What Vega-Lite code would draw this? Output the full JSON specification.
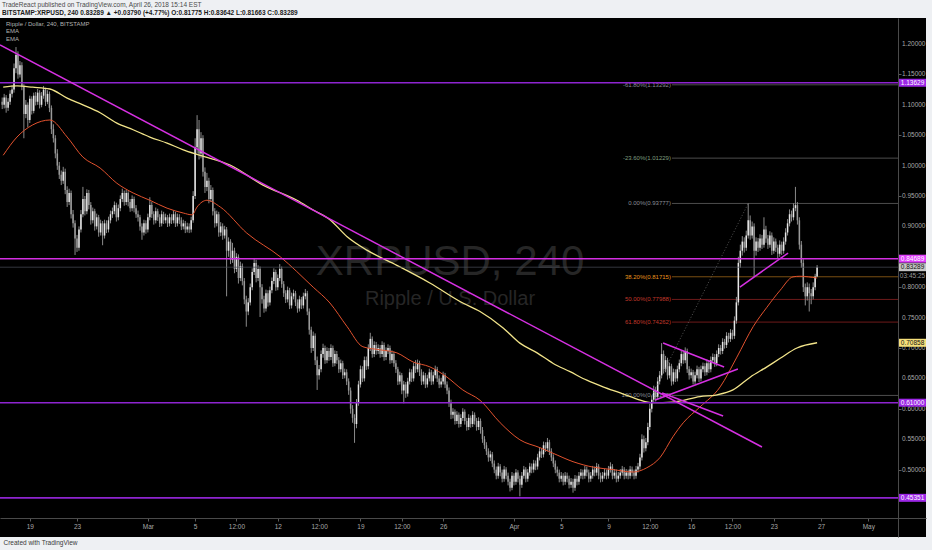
{
"$schema":"https://vega.github.io/schema/vega-lite/v6.json",
"width":926,"height":519,
"autosize":{"type":"none"},
"padding":{"left":0,"top":18,"right":6,"bottom":13},
"background":"#eef0f3",
"title":{"text":"TradeReact published on TradingView.com, April 26, 2018 15:14 EST","subtitle":"BITSTAMP:XRPUSD, 240  0.83289 ▲ +0.03790 (+4.77%)  O:0.81775  H:0.83642  L:0.81663  C:0.83289","anchor":"start","frame":"group","offset":2,"dx":2,"font":"Liberation Sans","fontSize":6.5,"fontWeight":"normal","color":"#4a4a4a","subtitleFont":"Liberation Sans","subtitleFontSize":6.5,"subtitleFontWeight":"bold","subtitleColor":"#1a1a1a","subtitlePadding":1.5},
"datasets":{
"c":[
{"t":376,"o":1.105,"hi":1.112,"lo":1.093,"c":1.100},
{"t":380,"o":1.100,"hi":1.118,"lo":1.094,"c":1.112},
{"t":384,"o":1.112,"hi":1.116,"lo":1.087,"c":1.095},
{"t":388,"o":1.095,"hi":1.111,"lo":1.090,"c":1.105},
{"t":392,"o":1.105,"hi":1.124,"lo":1.100,"c":1.118},
{"t":396,"o":1.118,"hi":1.132,"lo":1.112,"c":1.125},
{"t":400,"o":1.125,"hi":1.168,"lo":1.120,"c":1.160},
{"t":404,"o":1.160,"hi":1.195,"lo":1.152,"c":1.182},
{"t":408,"o":1.182,"hi":1.188,"lo":1.143,"c":1.150},
{"t":412,"o":1.150,"hi":1.172,"lo":1.145,"c":1.165},
{"t":416,"o":1.165,"hi":1.170,"lo":1.124,"c":1.130},
{"t":420,"o":1.130,"hi":1.134,"lo":1.045,"c":1.085},
{"t":424,"o":1.085,"hi":1.108,"lo":1.078,"c":1.100},
{"t":428,"o":1.100,"hi":1.104,"lo":1.063,"c":1.075},
{"t":432,"o":1.075,"hi":1.115,"lo":1.070,"c":1.110},
{"t":436,"o":1.110,"hi":1.114,"lo":1.084,"c":1.090},
{"t":440,"o":1.090,"hi":1.120,"lo":1.086,"c":1.115},
{"t":444,"o":1.115,"hi":1.121,"lo":1.099,"c":1.105},
{"t":448,"o":1.105,"hi":1.126,"lo":1.100,"c":1.120},
{"t":452,"o":1.120,"hi":1.124,"lo":1.094,"c":1.100},
{"t":456,"o":1.100,"hi":1.121,"lo":1.096,"c":1.115},
{"t":460,"o":1.115,"hi":1.131,"lo":1.110,"c":1.125},
{"t":464,"o":1.125,"hi":1.128,"lo":1.098,"c":1.105},
{"t":468,"o":1.105,"hi":1.124,"lo":1.101,"c":1.118},
{"t":472,"o":1.118,"hi":1.122,"lo":1.088,"c":1.095},
{"t":476,"o":1.095,"hi":1.099,"lo":1.052,"c":1.060},
{"t":480,"o":1.060,"hi":1.068,"lo":1.038,"c":1.045},
{"t":484,"o":1.045,"hi":1.050,"lo":1.012,"c":1.020},
{"t":488,"o":1.020,"hi":1.027,"lo":0.993,"c":1.000},
{"t":492,"o":1.000,"hi":1.006,"lo":0.978,"c":0.985},
{"t":496,"o":0.985,"hi":0.992,"lo":0.968,"c":0.975},
{"t":500,"o":0.975,"hi":0.998,"lo":0.970,"c":0.990},
{"t":504,"o":0.990,"hi":0.995,"lo":0.953,"c":0.960},
{"t":508,"o":0.960,"hi":0.966,"lo":0.932,"c":0.940},
{"t":512,"o":0.940,"hi":0.962,"lo":0.935,"c":0.955},
{"t":516,"o":0.955,"hi":0.959,"lo":0.913,"c":0.920},
{"t":520,"o":0.920,"hi":0.927,"lo":0.898,"c":0.905},
{"t":524,"o":0.905,"hi":0.910,"lo":0.853,"c":0.880},
{"t":528,"o":0.880,"hi":0.886,"lo":0.858,"c":0.865},
{"t":532,"o":0.865,"hi":0.900,"lo":0.860,"c":0.895},
{"t":536,"o":0.895,"hi":0.927,"lo":0.890,"c":0.920},
{"t":540,"o":0.920,"hi":0.965,"lo":0.915,"c":0.945},
{"t":544,"o":0.945,"hi":0.950,"lo":0.918,"c":0.925},
{"t":548,"o":0.925,"hi":0.961,"lo":0.920,"c":0.955},
{"t":552,"o":0.955,"hi":0.960,"lo":0.928,"c":0.935},
{"t":556,"o":0.935,"hi":0.940,"lo":0.903,"c":0.910},
{"t":560,"o":0.910,"hi":0.931,"lo":0.905,"c":0.925},
{"t":564,"o":0.925,"hi":0.929,"lo":0.893,"c":0.900},
{"t":568,"o":0.900,"hi":0.921,"lo":0.895,"c":0.915},
{"t":572,"o":0.915,"hi":0.919,"lo":0.883,"c":0.890},
{"t":576,"o":0.890,"hi":0.911,"lo":0.885,"c":0.905},
{"t":580,"o":0.905,"hi":0.909,"lo":0.869,"c":0.885},
{"t":584,"o":0.885,"hi":0.911,"lo":0.880,"c":0.905},
{"t":588,"o":0.905,"hi":0.910,"lo":0.889,"c":0.895},
{"t":592,"o":0.895,"hi":0.916,"lo":0.890,"c":0.910},
{"t":596,"o":0.910,"hi":0.926,"lo":0.905,"c":0.920},
{"t":600,"o":0.920,"hi":0.931,"lo":0.914,"c":0.925},
{"t":604,"o":0.925,"hi":0.941,"lo":0.920,"c":0.935},
{"t":608,"o":0.935,"hi":0.939,"lo":0.908,"c":0.915},
{"t":612,"o":0.915,"hi":0.936,"lo":0.910,"c":0.930},
{"t":616,"o":0.930,"hi":0.951,"lo":0.925,"c":0.945},
{"t":620,"o":0.945,"hi":0.962,"lo":0.940,"c":0.955},
{"t":624,"o":0.955,"hi":0.959,"lo":0.934,"c":0.940},
{"t":628,"o":0.940,"hi":0.960,"lo":0.935,"c":0.955},
{"t":632,"o":0.955,"hi":0.958,"lo":0.933,"c":0.940},
{"t":636,"o":0.940,"hi":0.945,"lo":0.924,"c":0.930},
{"t":640,"o":0.930,"hi":0.951,"lo":0.925,"c":0.945},
{"t":644,"o":0.945,"hi":0.949,"lo":0.923,"c":0.930},
{"t":648,"o":0.930,"hi":0.935,"lo":0.914,"c":0.920},
{"t":652,"o":0.920,"hi":0.926,"lo":0.908,"c":0.915},
{"t":656,"o":0.915,"hi":0.919,"lo":0.893,"c":0.900},
{"t":660,"o":0.900,"hi":0.905,"lo":0.878,"c":0.890},
{"t":664,"o":0.890,"hi":0.911,"lo":0.885,"c":0.905},
{"t":668,"o":0.905,"hi":0.910,"lo":0.888,"c":0.895},
{"t":672,"o":0.895,"hi":0.921,"lo":0.890,"c":0.915},
{"t":676,"o":0.915,"hi":0.948,"lo":0.910,"c":0.935},
{"t":680,"o":0.935,"hi":0.940,"lo":0.914,"c":0.920},
{"t":684,"o":0.920,"hi":0.925,"lo":0.903,"c":0.910},
{"t":688,"o":0.910,"hi":0.931,"lo":0.905,"c":0.925},
{"t":692,"o":0.925,"hi":0.929,"lo":0.909,"c":0.915},
{"t":696,"o":0.915,"hi":0.920,"lo":0.899,"c":0.905},
{"t":700,"o":0.905,"hi":0.926,"lo":0.900,"c":0.920},
{"t":704,"o":0.920,"hi":0.924,"lo":0.904,"c":0.910},
{"t":708,"o":0.910,"hi":0.921,"lo":0.905,"c":0.915},
{"t":712,"o":0.915,"hi":0.919,"lo":0.899,"c":0.905},
{"t":716,"o":0.905,"hi":0.921,"lo":0.900,"c":0.915},
{"t":720,"o":0.915,"hi":0.920,"lo":0.904,"c":0.910},
{"t":724,"o":0.910,"hi":0.926,"lo":0.905,"c":0.920},
{"t":728,"o":0.920,"hi":0.924,"lo":0.899,"c":0.905},
{"t":732,"o":0.905,"hi":0.921,"lo":0.900,"c":0.915},
{"t":736,"o":0.915,"hi":0.920,"lo":0.904,"c":0.910},
{"t":740,"o":0.910,"hi":0.915,"lo":0.894,"c":0.900},
{"t":744,"o":0.900,"hi":0.911,"lo":0.895,"c":0.905},
{"t":748,"o":0.905,"hi":0.909,"lo":0.889,"c":0.895},
{"t":752,"o":0.895,"hi":0.906,"lo":0.890,"c":0.900},
{"t":756,"o":0.900,"hi":0.905,"lo":0.889,"c":0.895},
{"t":760,"o":0.895,"hi":0.916,"lo":0.890,"c":0.910},
{"t":764,"o":0.910,"hi":0.958,"lo":0.906,"c":0.950},
{"t":768,"o":0.950,"hi":1.045,"lo":0.945,"c":1.030},
{"t":772,"o":1.030,"hi":1.083,"lo":1.020,"c":1.060},
{"t":776,"o":1.060,"hi":1.075,"lo":1.010,"c":1.020},
{"t":780,"o":1.020,"hi":1.055,"lo":1.012,"c":1.045},
{"t":784,"o":1.045,"hi":1.050,"lo":0.982,"c":0.990},
{"t":788,"o":0.990,"hi":0.997,"lo":0.955,"c":0.965},
{"t":792,"o":0.965,"hi":0.988,"lo":0.958,"c":0.975},
{"t":796,"o":0.975,"hi":0.980,"lo":0.938,"c":0.945},
{"t":800,"o":0.945,"hi":0.968,"lo":0.940,"c":0.960},
{"t":804,"o":0.960,"hi":0.964,"lo":0.918,"c":0.925},
{"t":808,"o":0.925,"hi":0.930,"lo":0.898,"c":0.905},
{"t":812,"o":0.905,"hi":0.926,"lo":0.900,"c":0.920},
{"t":816,"o":0.920,"hi":0.924,"lo":0.883,"c":0.890},
{"t":820,"o":0.890,"hi":0.907,"lo":0.884,"c":0.900},
{"t":824,"o":0.900,"hi":0.905,"lo":0.878,"c":0.885},
{"t":828,"o":0.885,"hi":0.901,"lo":0.880,"c":0.895},
{"t":832,"o":0.895,"hi":0.899,"lo":0.785,"c":0.860},
{"t":836,"o":0.860,"hi":0.882,"lo":0.850,"c":0.875},
{"t":840,"o":0.875,"hi":0.879,"lo":0.838,"c":0.845},
{"t":844,"o":0.845,"hi":0.873,"lo":0.840,"c":0.860},
{"t":848,"o":0.860,"hi":0.865,"lo":0.823,"c":0.830},
{"t":852,"o":0.830,"hi":0.856,"lo":0.825,"c":0.850},
{"t":856,"o":0.850,"hi":0.854,"lo":0.806,"c":0.815},
{"t":860,"o":0.815,"hi":0.842,"lo":0.810,"c":0.835},
{"t":864,"o":0.835,"hi":0.839,"lo":0.803,"c":0.810},
{"t":868,"o":0.810,"hi":0.815,"lo":0.772,"c":0.780},
{"t":872,"o":0.780,"hi":0.786,"lo":0.735,"c":0.760},
{"t":876,"o":0.760,"hi":0.782,"lo":0.754,"c":0.775},
{"t":880,"o":0.775,"hi":0.806,"lo":0.770,"c":0.800},
{"t":884,"o":0.800,"hi":0.831,"lo":0.795,"c":0.825},
{"t":888,"o":0.825,"hi":0.848,"lo":0.820,"c":0.840},
{"t":892,"o":0.840,"hi":0.845,"lo":0.808,"c":0.815},
{"t":896,"o":0.815,"hi":0.836,"lo":0.810,"c":0.830},
{"t":900,"o":0.830,"hi":0.834,"lo":0.751,"c":0.800},
{"t":904,"o":0.800,"hi":0.805,"lo":0.773,"c":0.780},
{"t":908,"o":0.780,"hi":0.786,"lo":0.758,"c":0.765},
{"t":912,"o":0.765,"hi":0.796,"lo":0.760,"c":0.790},
{"t":916,"o":0.790,"hi":0.795,"lo":0.768,"c":0.775},
{"t":920,"o":0.775,"hi":0.801,"lo":0.770,"c":0.795},
{"t":924,"o":0.795,"hi":0.816,"lo":0.790,"c":0.810},
{"t":928,"o":0.810,"hi":0.831,"lo":0.805,"c":0.825},
{"t":932,"o":0.825,"hi":0.829,"lo":0.794,"c":0.800},
{"t":936,"o":0.800,"hi":0.821,"lo":0.795,"c":0.815},
{"t":940,"o":0.815,"hi":0.838,"lo":0.810,"c":0.830},
{"t":944,"o":0.830,"hi":0.834,"lo":0.799,"c":0.805},
{"t":948,"o":0.805,"hi":0.810,"lo":0.784,"c":0.790},
{"t":952,"o":0.790,"hi":0.795,"lo":0.774,"c":0.780},
{"t":956,"o":0.780,"hi":0.801,"lo":0.775,"c":0.795},
{"t":960,"o":0.795,"hi":0.799,"lo":0.764,"c":0.770},
{"t":964,"o":0.770,"hi":0.791,"lo":0.765,"c":0.785},
{"t":968,"o":0.785,"hi":0.796,"lo":0.780,"c":0.790},
{"t":972,"o":0.790,"hi":0.794,"lo":0.769,"c":0.775},
{"t":976,"o":0.775,"hi":0.780,"lo":0.758,"c":0.765},
{"t":980,"o":0.765,"hi":0.786,"lo":0.760,"c":0.780},
{"t":984,"o":0.780,"hi":0.784,"lo":0.764,"c":0.770},
{"t":988,"o":0.770,"hi":0.791,"lo":0.765,"c":0.785},
{"t":992,"o":0.785,"hi":0.797,"lo":0.780,"c":0.790},
{"t":996,"o":0.790,"hi":0.794,"lo":0.754,"c":0.760},
{"t":1000,"o":0.760,"hi":0.765,"lo":0.722,"c":0.730},
{"t":1004,"o":0.730,"hi":0.735,"lo":0.692,"c":0.700},
{"t":1008,"o":0.700,"hi":0.727,"lo":0.695,"c":0.720},
{"t":1012,"o":0.720,"hi":0.724,"lo":0.672,"c":0.680},
{"t":1016,"o":0.680,"hi":0.686,"lo":0.631,"c":0.655},
{"t":1020,"o":0.655,"hi":0.672,"lo":0.648,"c":0.665},
{"t":1024,"o":0.665,"hi":0.696,"lo":0.660,"c":0.690},
{"t":1028,"o":0.690,"hi":0.707,"lo":0.684,"c":0.700},
{"t":1032,"o":0.700,"hi":0.704,"lo":0.674,"c":0.680},
{"t":1036,"o":0.680,"hi":0.701,"lo":0.675,"c":0.695},
{"t":1040,"o":0.695,"hi":0.700,"lo":0.679,"c":0.685},
{"t":1044,"o":0.685,"hi":0.706,"lo":0.680,"c":0.700},
{"t":1048,"o":0.700,"hi":0.704,"lo":0.669,"c":0.675},
{"t":1052,"o":0.675,"hi":0.696,"lo":0.670,"c":0.690},
{"t":1056,"o":0.690,"hi":0.695,"lo":0.674,"c":0.680},
{"t":1060,"o":0.680,"hi":0.685,"lo":0.659,"c":0.665},
{"t":1064,"o":0.665,"hi":0.681,"lo":0.660,"c":0.675},
{"t":1068,"o":0.675,"hi":0.679,"lo":0.649,"c":0.655},
{"t":1072,"o":0.655,"hi":0.666,"lo":0.650,"c":0.660},
{"t":1076,"o":0.660,"hi":0.665,"lo":0.639,"c":0.645},
{"t":1080,"o":0.645,"hi":0.650,"lo":0.623,"c":0.630},
{"t":1084,"o":0.630,"hi":0.635,"lo":0.592,"c":0.600},
{"t":1088,"o":0.600,"hi":0.606,"lo":0.577,"c":0.585},
{"t":1092,"o":0.585,"hi":0.591,"lo":0.544,"c":0.575},
{"t":1096,"o":0.575,"hi":0.616,"lo":0.568,"c":0.610},
{"t":1100,"o":0.610,"hi":0.646,"lo":0.605,"c":0.640},
{"t":1104,"o":0.640,"hi":0.671,"lo":0.635,"c":0.665},
{"t":1108,"o":0.665,"hi":0.670,"lo":0.644,"c":0.650},
{"t":1112,"o":0.650,"hi":0.686,"lo":0.645,"c":0.680},
{"t":1116,"o":0.680,"hi":0.686,"lo":0.664,"c":0.670},
{"t":1120,"o":0.670,"hi":0.706,"lo":0.665,"c":0.700},
{"t":1124,"o":0.700,"hi":0.725,"lo":0.695,"c":0.715},
{"t":1128,"o":0.715,"hi":0.719,"lo":0.684,"c":0.690},
{"t":1132,"o":0.690,"hi":0.711,"lo":0.685,"c":0.705},
{"t":1136,"o":0.705,"hi":0.710,"lo":0.689,"c":0.695},
{"t":1140,"o":0.695,"hi":0.706,"lo":0.690,"c":0.700},
{"t":1144,"o":0.700,"hi":0.705,"lo":0.684,"c":0.690},
{"t":1148,"o":0.690,"hi":0.711,"lo":0.685,"c":0.705},
{"t":1152,"o":0.705,"hi":0.709,"lo":0.679,"c":0.685},
{"t":1156,"o":0.685,"hi":0.701,"lo":0.680,"c":0.695},
{"t":1160,"o":0.695,"hi":0.706,"lo":0.690,"c":0.700},
{"t":1164,"o":0.700,"hi":0.704,"lo":0.674,"c":0.680},
{"t":1168,"o":0.680,"hi":0.696,"lo":0.675,"c":0.690},
{"t":1172,"o":0.690,"hi":0.694,"lo":0.669,"c":0.675},
{"t":1176,"o":0.675,"hi":0.680,"lo":0.659,"c":0.665},
{"t":1180,"o":0.665,"hi":0.669,"lo":0.639,"c":0.645},
{"t":1184,"o":0.645,"hi":0.661,"lo":0.640,"c":0.655},
{"t":1188,"o":0.655,"hi":0.659,"lo":0.624,"c":0.630},
{"t":1192,"o":0.630,"hi":0.646,"lo":0.609,"c":0.640},
{"t":1196,"o":0.640,"hi":0.644,"lo":0.618,"c":0.625},
{"t":1200,"o":0.625,"hi":0.651,"lo":0.620,"c":0.645},
{"t":1204,"o":0.645,"hi":0.666,"lo":0.640,"c":0.660},
{"t":1208,"o":0.660,"hi":0.665,"lo":0.644,"c":0.650},
{"t":1212,"o":0.650,"hi":0.676,"lo":0.645,"c":0.670},
{"t":1216,"o":0.670,"hi":0.680,"lo":0.659,"c":0.665},
{"t":1220,"o":0.665,"hi":0.681,"lo":0.660,"c":0.675},
{"t":1224,"o":0.675,"hi":0.679,"lo":0.654,"c":0.660},
{"t":1228,"o":0.660,"hi":0.665,"lo":0.639,"c":0.645},
{"t":1232,"o":0.645,"hi":0.661,"lo":0.640,"c":0.655},
{"t":1236,"o":0.655,"hi":0.659,"lo":0.634,"c":0.640},
{"t":1240,"o":0.640,"hi":0.656,"lo":0.635,"c":0.650},
{"t":1244,"o":0.650,"hi":0.666,"lo":0.645,"c":0.660},
{"t":1248,"o":0.660,"hi":0.664,"lo":0.639,"c":0.645},
{"t":1252,"o":0.645,"hi":0.661,"lo":0.640,"c":0.655},
{"t":1256,"o":0.655,"hi":0.671,"lo":0.650,"c":0.665},
{"t":1260,"o":0.665,"hi":0.669,"lo":0.644,"c":0.650},
{"t":1264,"o":0.650,"hi":0.655,"lo":0.634,"c":0.640},
{"t":1268,"o":0.640,"hi":0.651,"lo":0.635,"c":0.645},
{"t":1272,"o":0.645,"hi":0.661,"lo":0.640,"c":0.655},
{"t":1276,"o":0.655,"hi":0.659,"lo":0.634,"c":0.640},
{"t":1280,"o":0.640,"hi":0.645,"lo":0.624,"c":0.630},
{"t":1284,"o":0.630,"hi":0.635,"lo":0.603,"c":0.610},
{"t":1288,"o":0.610,"hi":0.615,"lo":0.583,"c":0.590},
{"t":1292,"o":0.590,"hi":0.601,"lo":0.584,"c":0.595},
{"t":1296,"o":0.595,"hi":0.599,"lo":0.574,"c":0.580},
{"t":1300,"o":0.580,"hi":0.596,"lo":0.575,"c":0.590},
{"t":1304,"o":0.590,"hi":0.594,"lo":0.569,"c":0.575},
{"t":1308,"o":0.575,"hi":0.591,"lo":0.570,"c":0.585},
{"t":1312,"o":0.585,"hi":0.601,"lo":0.580,"c":0.595},
{"t":1316,"o":0.595,"hi":0.599,"lo":0.574,"c":0.580},
{"t":1320,"o":0.580,"hi":0.585,"lo":0.564,"c":0.570},
{"t":1324,"o":0.570,"hi":0.591,"lo":0.565,"c":0.585},
{"t":1328,"o":0.585,"hi":0.589,"lo":0.569,"c":0.575},
{"t":1332,"o":0.575,"hi":0.596,"lo":0.570,"c":0.590},
{"t":1336,"o":0.590,"hi":0.594,"lo":0.574,"c":0.580},
{"t":1340,"o":0.580,"hi":0.585,"lo":0.564,"c":0.570},
{"t":1344,"o":0.570,"hi":0.586,"lo":0.565,"c":0.580},
{"t":1348,"o":0.580,"hi":0.584,"lo":0.559,"c":0.565},
{"t":1352,"o":0.565,"hi":0.570,"lo":0.544,"c":0.550},
{"t":1356,"o":0.550,"hi":0.555,"lo":0.534,"c":0.540},
{"t":1360,"o":0.540,"hi":0.545,"lo":0.524,"c":0.530},
{"t":1364,"o":0.530,"hi":0.535,"lo":0.513,"c":0.520},
{"t":1368,"o":0.520,"hi":0.531,"lo":0.514,"c":0.525},
{"t":1372,"o":0.525,"hi":0.529,"lo":0.504,"c":0.510},
{"t":1376,"o":0.510,"hi":0.515,"lo":0.494,"c":0.500},
{"t":1380,"o":0.500,"hi":0.505,"lo":0.484,"c":0.490},
{"t":1384,"o":0.490,"hi":0.511,"lo":0.485,"c":0.505},
{"t":1388,"o":0.505,"hi":0.509,"lo":0.489,"c":0.495},
{"t":1392,"o":0.495,"hi":0.500,"lo":0.479,"c":0.485},
{"t":1396,"o":0.485,"hi":0.506,"lo":0.480,"c":0.500},
{"t":1400,"o":0.500,"hi":0.504,"lo":0.484,"c":0.490},
{"t":1404,"o":0.490,"hi":0.495,"lo":0.474,"c":0.480},
{"t":1408,"o":0.480,"hi":0.485,"lo":0.464,"c":0.470},
{"t":1412,"o":0.470,"hi":0.496,"lo":0.466,"c":0.490},
{"t":1416,"o":0.490,"hi":0.494,"lo":0.474,"c":0.480},
{"t":1420,"o":0.480,"hi":0.501,"lo":0.475,"c":0.495},
{"t":1424,"o":0.495,"hi":0.499,"lo":0.479,"c":0.485},
{"t":1428,"o":0.485,"hi":0.490,"lo":0.456,"c":0.475},
{"t":1432,"o":0.475,"hi":0.496,"lo":0.470,"c":0.490},
{"t":1436,"o":0.490,"hi":0.506,"lo":0.485,"c":0.500},
{"t":1440,"o":0.500,"hi":0.504,"lo":0.479,"c":0.485},
{"t":1444,"o":0.485,"hi":0.501,"lo":0.480,"c":0.495},
{"t":1448,"o":0.495,"hi":0.511,"lo":0.490,"c":0.505},
{"t":1452,"o":0.505,"hi":0.510,"lo":0.494,"c":0.500},
{"t":1456,"o":0.500,"hi":0.516,"lo":0.495,"c":0.510},
{"t":1460,"o":0.510,"hi":0.515,"lo":0.499,"c":0.505},
{"t":1464,"o":0.505,"hi":0.526,"lo":0.500,"c":0.520},
{"t":1468,"o":0.520,"hi":0.536,"lo":0.515,"c":0.530},
{"t":1472,"o":0.530,"hi":0.535,"lo":0.519,"c":0.525},
{"t":1476,"o":0.525,"hi":0.546,"lo":0.520,"c":0.540},
{"t":1480,"o":0.540,"hi":0.545,"lo":0.529,"c":0.535},
{"t":1484,"o":0.535,"hi":0.552,"lo":0.530,"c":0.545},
{"t":1488,"o":0.545,"hi":0.549,"lo":0.524,"c":0.530},
{"t":1492,"o":0.530,"hi":0.535,"lo":0.514,"c":0.520},
{"t":1496,"o":0.520,"hi":0.525,"lo":0.504,"c":0.510},
{"t":1500,"o":0.510,"hi":0.515,"lo":0.494,"c":0.500},
{"t":1504,"o":0.500,"hi":0.505,"lo":0.489,"c":0.495},
{"t":1508,"o":0.495,"hi":0.500,"lo":0.479,"c":0.485},
{"t":1512,"o":0.485,"hi":0.496,"lo":0.480,"c":0.490},
{"t":1516,"o":0.490,"hi":0.494,"lo":0.474,"c":0.480},
{"t":1520,"o":0.480,"hi":0.496,"lo":0.475,"c":0.490},
{"t":1524,"o":0.490,"hi":0.495,"lo":0.479,"c":0.485},
{"t":1528,"o":0.485,"hi":0.490,"lo":0.469,"c":0.475},
{"t":1532,"o":0.475,"hi":0.486,"lo":0.470,"c":0.480},
{"t":1536,"o":0.480,"hi":0.485,"lo":0.462,"c":0.470},
{"t":1540,"o":0.470,"hi":0.491,"lo":0.465,"c":0.485},
{"t":1544,"o":0.485,"hi":0.490,"lo":0.474,"c":0.480},
{"t":1548,"o":0.480,"hi":0.496,"lo":0.475,"c":0.490},
{"t":1552,"o":0.490,"hi":0.501,"lo":0.485,"c":0.495},
{"t":1556,"o":0.495,"hi":0.500,"lo":0.484,"c":0.490},
{"t":1560,"o":0.490,"hi":0.506,"lo":0.485,"c":0.500},
{"t":1564,"o":0.500,"hi":0.505,"lo":0.489,"c":0.495},
{"t":1568,"o":0.495,"hi":0.500,"lo":0.479,"c":0.485},
{"t":1572,"o":0.485,"hi":0.496,"lo":0.480,"c":0.490},
{"t":1576,"o":0.490,"hi":0.506,"lo":0.485,"c":0.500},
{"t":1580,"o":0.500,"hi":0.505,"lo":0.489,"c":0.495},
{"t":1584,"o":0.495,"hi":0.511,"lo":0.490,"c":0.505},
{"t":1588,"o":0.505,"hi":0.509,"lo":0.484,"c":0.490},
{"t":1592,"o":0.490,"hi":0.495,"lo":0.479,"c":0.485},
{"t":1596,"o":0.485,"hi":0.496,"lo":0.480,"c":0.490},
{"t":1600,"o":0.490,"hi":0.501,"lo":0.485,"c":0.495},
{"t":1604,"o":0.495,"hi":0.500,"lo":0.484,"c":0.490},
{"t":1608,"o":0.490,"hi":0.506,"lo":0.485,"c":0.500},
{"t":1612,"o":0.500,"hi":0.512,"lo":0.495,"c":0.505},
{"t":1616,"o":0.505,"hi":0.509,"lo":0.484,"c":0.490},
{"t":1620,"o":0.490,"hi":0.501,"lo":0.485,"c":0.495},
{"t":1624,"o":0.495,"hi":0.500,"lo":0.479,"c":0.485},
{"t":1628,"o":0.485,"hi":0.496,"lo":0.480,"c":0.490},
{"t":1632,"o":0.490,"hi":0.501,"lo":0.485,"c":0.495},
{"t":1636,"o":0.495,"hi":0.506,"lo":0.490,"c":0.500},
{"t":1640,"o":0.500,"hi":0.504,"lo":0.484,"c":0.490},
{"t":1644,"o":0.490,"hi":0.501,"lo":0.485,"c":0.495},
{"t":1648,"o":0.495,"hi":0.500,"lo":0.484,"c":0.490},
{"t":1652,"o":0.490,"hi":0.506,"lo":0.485,"c":0.500},
{"t":1656,"o":0.500,"hi":0.505,"lo":0.489,"c":0.495},
{"t":1660,"o":0.495,"hi":0.500,"lo":0.484,"c":0.490},
{"t":1664,"o":0.490,"hi":0.506,"lo":0.485,"c":0.500},
{"t":1668,"o":0.500,"hi":0.511,"lo":0.495,"c":0.505},
{"t":1672,"o":0.505,"hi":0.526,"lo":0.500,"c":0.520},
{"t":1676,"o":0.520,"hi":0.558,"lo":0.515,"c":0.550},
{"t":1680,"o":0.550,"hi":0.556,"lo":0.528,"c":0.535},
{"t":1684,"o":0.535,"hi":0.552,"lo":0.530,"c":0.545},
{"t":1688,"o":0.545,"hi":0.577,"lo":0.540,"c":0.570},
{"t":1692,"o":0.570,"hi":0.608,"lo":0.565,"c":0.600},
{"t":1696,"o":0.600,"hi":0.622,"lo":0.594,"c":0.615},
{"t":1700,"o":0.615,"hi":0.638,"lo":0.610,"c":0.630},
{"t":1704,"o":0.630,"hi":0.636,"lo":0.612,"c":0.620},
{"t":1708,"o":0.620,"hi":0.652,"lo":0.615,"c":0.645},
{"t":1712,"o":0.645,"hi":0.662,"lo":0.640,"c":0.655},
{"t":1716,"o":0.655,"hi":0.708,"lo":0.650,"c":0.690},
{"t":1720,"o":0.690,"hi":0.696,"lo":0.658,"c":0.665},
{"t":1724,"o":0.665,"hi":0.687,"lo":0.660,"c":0.680},
{"t":1728,"o":0.680,"hi":0.684,"lo":0.648,"c":0.655},
{"t":1732,"o":0.655,"hi":0.676,"lo":0.650,"c":0.670},
{"t":1736,"o":0.670,"hi":0.674,"lo":0.638,"c":0.645},
{"t":1740,"o":0.645,"hi":0.666,"lo":0.640,"c":0.660},
{"t":1744,"o":0.660,"hi":0.665,"lo":0.644,"c":0.650},
{"t":1748,"o":0.650,"hi":0.671,"lo":0.645,"c":0.665},
{"t":1752,"o":0.665,"hi":0.681,"lo":0.660,"c":0.675},
{"t":1756,"o":0.675,"hi":0.696,"lo":0.670,"c":0.690},
{"t":1760,"o":0.690,"hi":0.695,"lo":0.674,"c":0.680},
{"t":1764,"o":0.680,"hi":0.701,"lo":0.675,"c":0.695},
{"t":1768,"o":0.695,"hi":0.699,"lo":0.659,"c":0.665},
{"t":1772,"o":0.665,"hi":0.670,"lo":0.648,"c":0.655},
{"t":1776,"o":0.655,"hi":0.666,"lo":0.650,"c":0.660},
{"t":1780,"o":0.660,"hi":0.664,"lo":0.640,"c":0.645},
{"t":1784,"o":0.645,"hi":0.661,"lo":0.640,"c":0.655},
{"t":1788,"o":0.655,"hi":0.671,"lo":0.650,"c":0.665},
{"t":1792,"o":0.665,"hi":0.669,"lo":0.644,"c":0.650},
{"t":1796,"o":0.650,"hi":0.671,"lo":0.645,"c":0.665},
{"t":1800,"o":0.665,"hi":0.676,"lo":0.660,"c":0.670},
{"t":1804,"o":0.670,"hi":0.675,"lo":0.654,"c":0.660},
{"t":1808,"o":0.660,"hi":0.681,"lo":0.655,"c":0.675},
{"t":1812,"o":0.675,"hi":0.680,"lo":0.659,"c":0.665},
{"t":1816,"o":0.665,"hi":0.686,"lo":0.660,"c":0.680},
{"t":1820,"o":0.680,"hi":0.691,"lo":0.675,"c":0.685},
{"t":1824,"o":0.685,"hi":0.690,"lo":0.669,"c":0.675},
{"t":1828,"o":0.675,"hi":0.696,"lo":0.670,"c":0.690},
{"t":1832,"o":0.690,"hi":0.706,"lo":0.685,"c":0.700},
{"t":1836,"o":0.700,"hi":0.705,"lo":0.689,"c":0.695},
{"t":1840,"o":0.695,"hi":0.716,"lo":0.690,"c":0.710},
{"t":1844,"o":0.710,"hi":0.715,"lo":0.699,"c":0.705},
{"t":1848,"o":0.705,"hi":0.726,"lo":0.700,"c":0.720},
{"t":1852,"o":0.720,"hi":0.725,"lo":0.709,"c":0.715},
{"t":1856,"o":0.715,"hi":0.731,"lo":0.710,"c":0.725},
{"t":1860,"o":0.725,"hi":0.730,"lo":0.714,"c":0.720},
{"t":1864,"o":0.720,"hi":0.752,"lo":0.715,"c":0.745},
{"t":1868,"o":0.745,"hi":0.784,"lo":0.740,"c":0.775},
{"t":1872,"o":0.775,"hi":0.850,"lo":0.770,"c":0.840},
{"t":1876,"o":0.840,"hi":0.870,"lo":0.832,"c":0.860},
{"t":1880,"o":0.860,"hi":0.884,"lo":0.852,"c":0.875},
{"t":1884,"o":0.875,"hi":0.882,"lo":0.857,"c":0.865},
{"t":1888,"o":0.865,"hi":0.893,"lo":0.860,"c":0.885},
{"t":1892,"o":0.885,"hi":0.938,"lo":0.880,"c":0.910},
{"t":1896,"o":0.910,"hi":0.918,"lo":0.878,"c":0.885},
{"t":1900,"o":0.885,"hi":0.908,"lo":0.880,"c":0.900},
{"t":1904,"o":0.900,"hi":0.905,"lo":0.817,"c":0.860},
{"t":1908,"o":0.860,"hi":0.882,"lo":0.852,"c":0.875},
{"t":1912,"o":0.875,"hi":0.881,"lo":0.858,"c":0.865},
{"t":1916,"o":0.865,"hi":0.887,"lo":0.860,"c":0.880},
{"t":1920,"o":0.880,"hi":0.886,"lo":0.863,"c":0.870},
{"t":1924,"o":0.870,"hi":0.915,"lo":0.865,"c":0.895},
{"t":1928,"o":0.895,"hi":0.901,"lo":0.873,"c":0.880},
{"t":1932,"o":0.880,"hi":0.886,"lo":0.863,"c":0.870},
{"t":1936,"o":0.870,"hi":0.892,"lo":0.865,"c":0.885},
{"t":1940,"o":0.885,"hi":0.890,"lo":0.853,"c":0.860},
{"t":1944,"o":0.860,"hi":0.882,"lo":0.855,"c":0.875},
{"t":1948,"o":0.875,"hi":0.880,"lo":0.858,"c":0.865},
{"t":1952,"o":0.865,"hi":0.870,"lo":0.848,"c":0.855},
{"t":1956,"o":0.855,"hi":0.877,"lo":0.850,"c":0.870},
{"t":1960,"o":0.870,"hi":0.875,"lo":0.853,"c":0.860},
{"t":1964,"o":0.860,"hi":0.882,"lo":0.855,"c":0.875},
{"t":1968,"o":0.875,"hi":0.897,"lo":0.870,"c":0.890},
{"t":1972,"o":0.890,"hi":0.912,"lo":0.885,"c":0.905},
{"t":1976,"o":0.905,"hi":0.928,"lo":0.900,"c":0.920},
{"t":1980,"o":0.920,"hi":0.926,"lo":0.908,"c":0.915},
{"t":1984,"o":0.915,"hi":0.938,"lo":0.910,"c":0.930},
{"t":1988,"o":0.930,"hi":0.965,"lo":0.925,"c":0.935},
{"t":1992,"o":0.935,"hi":0.940,"lo":0.903,"c":0.910},
{"t":1996,"o":0.910,"hi":0.915,"lo":0.862,"c":0.870},
{"t":2000,"o":0.870,"hi":0.876,"lo":0.832,"c":0.840},
{"t":2004,"o":0.840,"hi":0.846,"lo":0.792,"c":0.800},
{"t":2008,"o":0.800,"hi":0.806,"lo":0.770,"c":0.785},
{"t":2012,"o":0.785,"hi":0.808,"lo":0.778,"c":0.800},
{"t":2016,"o":0.800,"hi":0.806,"lo":0.760,"c":0.790},
{"t":2020,"o":0.790,"hi":0.797,"lo":0.772,"c":0.785},
{"t":2024,"o":0.785,"hi":0.808,"lo":0.780,"c":0.800},
{"t":2028,"o":0.800,"hi":0.822,"lo":0.795,"c":0.8178},
{"t":2032,"o":0.8178,"hi":0.8364,"lo":0.8166,"c":0.8329}
],
"red":[
{"t":378,"v":1.017},{"t":406,"v":1.047},{"t":438,"v":1.067},{"t":473,"v":1.075},{"t":508,"v":1.047},{"t":540,"v":1.014},{"t":575,"v":0.996},{"t":609,"v":0.971},{"t":642,"v":0.955},{"t":676,"v":0.943},{"t":711,"v":0.930},{"t":744,"v":0.922},{"t":762,"v":0.919},{"t":772,"v":0.932},{"t":792,"v":0.943},{"t":819,"v":0.932},{"t":873,"v":0.889},{"t":941,"v":0.850},{"t":1008,"v":0.800},{"t":1042,"v":0.774},{"t":1077,"v":0.735},{"t":1109,"v":0.702},{"t":1144,"v":0.697},{"t":1178,"v":0.692},{"t":1211,"v":0.677},{"t":1245,"v":0.669},{"t":1280,"v":0.652},{"t":1312,"v":0.631},{"t":1347,"v":0.614},{"t":1388,"v":0.577},{"t":1428,"v":0.549},{"t":1469,"v":0.536},{"t":1495,"v":0.527},{"t":1536,"v":0.513},{"t":1577,"v":0.504},{"t":1617,"v":0.500},{"t":1658,"v":0.496},{"t":1686,"v":0.503},{"t":1713,"v":0.520},{"t":1739,"v":0.554},{"t":1760,"v":0.577},{"t":1794,"v":0.603},{"t":1835,"v":0.636},{"t":1869,"v":0.685},{"t":1902,"v":0.735},{"t":1930,"v":0.767},{"t":1957,"v":0.795},{"t":1983,"v":0.817},{"t":1997,"v":0.818},{"t":2032,"v":0.815}
],
"yel":[
{"t":378,"v":1.129},{"t":406,"v":1.131},{"t":438,"v":1.129},{"t":473,"v":1.126},{"t":508,"v":1.111},{"t":540,"v":1.100},{"t":575,"v":1.087},{"t":609,"v":1.070},{"t":642,"v":1.059},{"t":676,"v":1.047},{"t":711,"v":1.037},{"t":744,"v":1.026},{"t":778,"v":1.017},{"t":839,"v":1.001},{"t":906,"v":0.968},{"t":975,"v":0.943},{"t":1008,"v":0.927},{"t":1042,"v":0.911},{"t":1077,"v":0.883},{"t":1117,"v":0.861},{"t":1178,"v":0.836},{"t":1245,"v":0.807},{"t":1312,"v":0.774},{"t":1347,"v":0.760},{"t":1394,"v":0.733},{"t":1428,"v":0.708},{"t":1463,"v":0.692},{"t":1495,"v":0.675},{"t":1530,"v":0.661},{"t":1564,"v":0.647},{"t":1597,"v":0.636},{"t":1632,"v":0.626},{"t":1666,"v":0.616},{"t":1698,"v":0.610},{"t":1739,"v":0.611},{"t":1794,"v":0.620},{"t":1829,"v":0.623},{"t":1861,"v":0.631},{"t":1896,"v":0.652},{"t":1930,"v":0.669},{"t":1957,"v":0.683},{"t":1991,"v":0.700},{"t":2032,"v":0.7086}
],
"lv":[
{"p":1.13629,"k":"purple"},{"p":0.84689,"k":"magenta"},{"p":0.83289,"k":"last"},{"p":0.70858,"k":"ema"},{"p":0.61,"k":"purple"},{"p":0.45351,"k":"purple"}
],
"fib":[
{"p":1.13292,"lab":"-61.80%(1.13292)","k":"g"},{"p":1.01229,"lab":"-23.60%(1.01229)","k":"gr"},{"p":0.93777,"lab":"0.00%(0.93777)","k":"g"},{"p":0.81715,"lab":"38.20%(0.81715)","k":"o"},{"p":0.77988,"lab":"50.00%(0.77988)","k":"r"},{"p":0.74262,"lab":"61.80%(0.74262)","k":"r"},{"p":0.62197,"lab":"100.00%(0.62197)","k":"g"}
],
"tl":[
{"ta":371.5,"pa":1.1984,"tb":1920,"pb":0.5372},{"ta":1717,"pa":0.626,"tb":1841,"pb":0.5882},{"ta":1719,"pa":0.7082,"tb":1843,"pb":0.6688},{"ta":1703,"pa":0.6145,"tb":1871,"pb":0.6655},{"ta":1875,"pa":0.8003,"tb":1973,"pb":0.8562}
],
"yt":[
{"v":0.5},{"v":0.55},{"v":0.6},{"v":0.65},{"v":0.7},{"v":0.75},{"v":0.8},{"v":0.9},{"v":0.95},{"v":1.0},{"v":1.05},{"v":1.1},{"v":1.15},{"v":1.2}
]
},
"layer":[
{"data":{"values":[{"s":"XRPUSD, 240"}]},
 "mark":{"type":"text","font":"Liberation Sans","fontSize":42,"color":"#262626","align":"center","baseline":"middle"},
 "encoding":{
  "x":{"datum":1286,"type":"quantitative","scale":{"domain":[371.5,2253.3],"nice":false,"zero":false,"padding":0},
   "axis":{"values":[432,528,672,768,852,936,1020,1104,1188,1272,1416,1512,1608,1692,1776,1860,1944,2040,2136],
    "labelExpr":"['19','23','Mar','5','12:00','12','12:00','19','12:00','26','Apr','5','9','12:00','16','12:00','23','27','May'][indexof([432,528,672,768,852,936,1020,1104,1188,1272,1416,1512,1608,1692,1776,1860,1944,2040,2136], datum.value)]",
    "labelOverlap":false,"offset":-19,"grid":false,"domainColor":"#4a4a4a","tickColor":"#5a5a5a","tickSize":3,"labelColor":"#a8a8a8","labelFont":"Liberation Sans","labelFontSize":6.5,"labelPadding":2,
    "title":"Created with TradingView","titleAnchor":"start","titleAlign":"left","titleX":3,"titleY":24,"titleBaseline":"middle","titleFont":"Liberation Sans","titleFontSize":6.5,"titleFontWeight":"normal","titleColor":"#3a3a3a"}},
  "y":{"datum":0.8414,"type":"quantitative","scale":{"domain":[0.3891,1.2428],"nice":false,"zero":false,"padding":0},
   "axis":{"orient":"right","offset":-28,"values":[0.5,0.55,0.6,0.65,0.7,0.75,0.8,0.9,0.95,1.0,1.05,1.1,1.15,1.2],"labels":false,"grid":false,"domainColor":"#4a4a4a","tickColor":"#5a5a5a","tickSize":3,"title":null}},
  "text":{"field":"s"}}},
{"data":{"values":[{"s":"Ripple / U.S. Dollar"}]},
 "mark":{"type":"text","font":"Liberation Sans","fontSize":20,"color":"#262626","align":"center","baseline":"middle"},
 "encoding":{"x":{"datum":1286,"type":"quantitative"},"y":{"datum":0.7806,"type":"quantitative"},"text":{"field":"s"}}},
{"data":{"name":"yt"},
 "mark":{"type":"text","font":"Liberation Sans","fontSize":6.5,"color":"#a8a8a8","align":"left","baseline":"middle"},
 "encoding":{"x":{"datum":2204.5,"type":"quantitative"},"y":{"field":"v","type":"quantitative"},"text":{"field":"v","type":"quantitative","format":".5f"}}},
{"data":{"name":"fib"},
 "mark":{"type":"rule","strokeWidth":1},
 "encoding":{"x":{"datum":1737,"type":"quantitative"},"x2":{"datum":2196.5},"y":{"field":"p","type":"quantitative"},
  "color":{"field":"k","type":"nominal","scale":{"domain":["g","gr","o","r"],"range":["#4d4d4d","#4d4d4d","#7a4e12","#6e1a1a"]},"legend":null}}},
{"data":{"name":"fib"},
 "mark":{"type":"text","font":"Liberation Sans","fontSize":6,"align":"right","baseline":"middle"},
 "encoding":{"x":{"datum":1735,"type":"quantitative"},"y":{"field":"p","type":"quantitative"},"text":{"field":"lab"},
  "color":{"field":"k","type":"nominal","scale":{"domain":["g","gr","o","r"],"range":["#8a8d96","#7f9f7f","#e8951c","#c0392b"]},"legend":null}}},
{"data":{"name":"c"},
 "mark":{"type":"rule","strokeWidth":1,"color":"#8a8a8a"},
 "encoding":{"x":{"field":"t","type":"quantitative"},"y":{"field":"lo","type":"quantitative","scale":{"zero":false}},"y2":{"field":"hi"}}},
{"data":{"name":"c"},
 "mark":{"type":"bar","width":1.5},
 "encoding":{"x":{"field":"t","type":"quantitative"},"y":{"field":"o","type":"quantitative","scale":{"zero":false}},"y2":{"field":"c"},
  "color":{"condition":{"test":"datum.c >= datum.o","value":"#e6e6e6"},"value":"#9a9a9a"}}},
{"data":{"name":"red"},
 "mark":{"type":"line","color":"#e2522e","strokeWidth":1,"interpolate":"monotone"},
 "encoding":{"x":{"field":"t","type":"quantitative"},"y":{"field":"v","type":"quantitative"}}},
{"data":{"name":"yel"},
 "mark":{"type":"line","color":"#f2e48a","strokeWidth":1.3,"interpolate":"monotone"},
 "encoding":{"x":{"field":"t","type":"quantitative"},"y":{"field":"v","type":"quantitative"}}},
{"data":{"name":"lv"},
 "transform":[{"filter":"datum.k != 'ema'"}],
 "mark":{"type":"rule"},
 "encoding":{"x":{"datum":371.5,"type":"quantitative"},"x2":{"datum":2196.5},"y":{"field":"p","type":"quantitative"},
  "color":{"field":"k","type":"nominal","scale":{"domain":["purple","magenta","last"],"range":["#8e24d0","#d42ee2","#4a4d57"]},"legend":null},
  "strokeWidth":{"condition":{"test":"datum.k == 'last'","value":0.7},"value":1.6}}},
{"data":{"name":"tl"},
 "mark":{"type":"rule","color":"#d630e2","strokeWidth":1.5},
 "encoding":{"x":{"field":"ta","type":"quantitative"},"x2":{"field":"tb"},"y":{"field":"pa","type":"quantitative"},"y2":{"field":"pb"}}},
{"data":{"values":[{"ta":1696,"pa":0.62197,"tb":1892,"pb":0.93777}]},
 "mark":{"type":"rule","color":"#6a6a6a","strokeWidth":0.8,"strokeDash":[1,2]},
 "encoding":{"x":{"field":"ta","type":"quantitative"},"x2":{"field":"tb"},"y":{"field":"pa","type":"quantitative"},"y2":{"field":"pb"}}},
{"data":{"values":[{"s":["Ripple / Dollar, 240, BITSTAMP","EMA","EMA"]}]},
 "mark":{"type":"text","font":"Liberation Sans","fontSize":6,"lineHeight":7.3,"color":"#b0b0b0","align":"left","baseline":"top"},
 "encoding":{"x":{"datum":383.7,"type":"quantitative"},"y":{"datum":1.2378,"type":"quantitative"},"text":{"field":"s"}}},
{"data":{"name":"lv"},
 "mark":{"type":"tick","orient":"horizontal","size":27,"thickness":8,"opacity":1},
 "encoding":{"x":{"datum":2225.9,"type":"quantitative"},"y":{"field":"p","type":"quantitative"},
  "color":{"field":"k","type":"nominal","scale":{"domain":["purple","magenta","last","ema"],"range":["#9c27e6","#e040fb","#c4c4c4","#f5df7a"]},"legend":null}}},
{"data":{"name":"lv"},
 "mark":{"type":"text","font":"Liberation Sans","fontSize":6.5,"align":"center","baseline":"middle"},
 "encoding":{"x":{"datum":2225.9,"type":"quantitative"},"y":{"field":"p","type":"quantitative"},"text":{"field":"p","type":"quantitative","format":".5f"},
  "color":{"condition":{"test":"datum.k == 'last' || datum.k == 'ema'","value":"#111111"},"value":"#ffffff"}}},
{"data":{"values":[{"s":"03:45:25"}]},
 "mark":{"type":"text","font":"Liberation Sans","fontSize":6.5,"align":"center","baseline":"middle","dy":9,"color":"#9a9a9a"},
 "encoding":{"x":{"datum":2225.9,"type":"quantitative"},"y":{"datum":0.83289,"type":"quantitative"},"text":{"field":"s"}}}
],
"resolve":{"scale":{"color":"independent"}},
"config":{"view":{"fill":"#000000","stroke":null},"axis":{"grid":false}}
}
